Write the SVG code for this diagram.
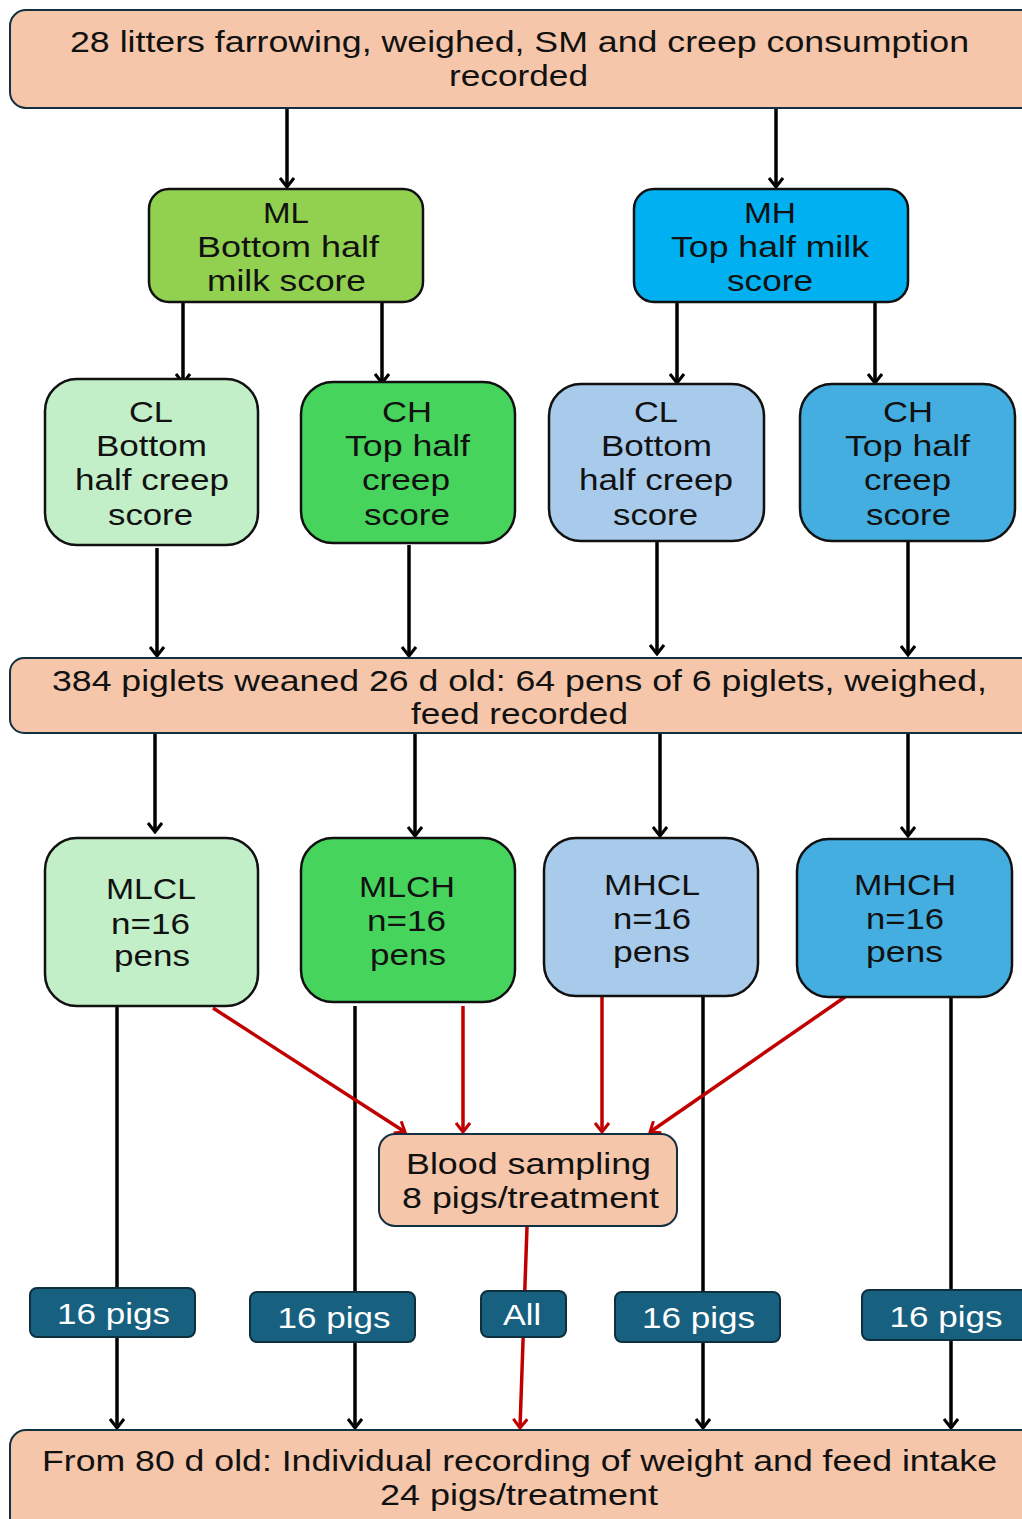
<svg xmlns="http://www.w3.org/2000/svg" width="1022" height="1519" viewBox="0 0 1022 1519">
<style>
text{font-family:"Liberation Sans",Arial,sans-serif;font-size:30px;fill:#111;text-anchor:middle}
.peach{fill:#F5C6AA;stroke:#12303F;stroke-width:2}
.box{stroke:#111;stroke-width:2.5}
.lab{fill:#17607F;stroke:#0E2F3E;stroke-width:2}
.lab text{fill:#fff;stroke:none}
.blk{stroke:#000;stroke-width:3.5;fill:none}
.red{stroke:#C00000;stroke-width:3.5;fill:none}
</style>
<defs>
<marker id="ab" markerWidth="12" markerHeight="16" refX="10" refY="8" orient="auto" markerUnits="userSpaceOnUse" viewBox="0 0 12 16">
<path d="M1,1 L10,8 L1,15" fill="none" stroke="#000" stroke-width="3"/>
</marker>
<marker id="ar" markerWidth="12" markerHeight="16" refX="10" refY="8" orient="auto" markerUnits="userSpaceOnUse" viewBox="0 0 12 16">
<path d="M1,1 L10,8 L1,15" fill="none" stroke="#C00000" stroke-width="3"/>
</marker>
</defs>
<rect width="1022" height="1519" fill="#fff"/>

<g id="connectors">
<line class="blk" x1="287" y1="108" x2="287" y2="187" marker-end="url(#ab)"/>
<line class="blk" x1="776" y1="108" x2="776" y2="187" marker-end="url(#ab)"/>
<line class="blk" x1="183" y1="302" x2="183" y2="383" marker-end="url(#ab)"/>
<line class="blk" x1="382" y1="302" x2="382" y2="383" marker-end="url(#ab)"/>
<line class="blk" x1="677" y1="302" x2="677" y2="383" marker-end="url(#ab)"/>
<line class="blk" x1="875" y1="302" x2="875" y2="383" marker-end="url(#ab)"/>
<line class="blk" x1="157" y1="548" x2="157" y2="656" marker-end="url(#ab)"/>
<line class="blk" x1="409" y1="545" x2="409" y2="656" marker-end="url(#ab)"/>
<line class="blk" x1="657" y1="541" x2="657" y2="654" marker-end="url(#ab)"/>
<line class="blk" x1="908" y1="542" x2="908" y2="655" marker-end="url(#ab)"/>
<line class="blk" x1="155" y1="734" x2="155" y2="832" marker-end="url(#ab)"/>
<line class="blk" x1="415" y1="734" x2="415" y2="836" marker-end="url(#ab)"/>
<line class="blk" x1="660" y1="734" x2="660" y2="836" marker-end="url(#ab)"/>
<line class="blk" x1="908" y1="734" x2="908" y2="836" marker-end="url(#ab)"/>
<line class="blk" x1="117" y1="1003" x2="117" y2="1428" marker-end="url(#ab)"/>
<line class="blk" x1="355" y1="1006" x2="355" y2="1428" marker-end="url(#ab)"/>
<line class="blk" x1="703" y1="996" x2="703" y2="1428" marker-end="url(#ab)"/>
<line class="blk" x1="951" y1="997" x2="951" y2="1428" marker-end="url(#ab)"/>
<line class="red" x1="213" y1="1008" x2="405" y2="1132" marker-end="url(#ar)"/>
<line class="red" x1="463" y1="1006" x2="463" y2="1132" marker-end="url(#ar)"/>
<line class="red" x1="602" y1="996" x2="602" y2="1132" marker-end="url(#ar)"/>
<line class="red" x1="845" y1="997" x2="650" y2="1132" marker-end="url(#ar)"/>
<line class="red" x1="527" y1="1227" x2="520" y2="1428" marker-end="url(#ar)"/>
</g>

<g id="top">
<rect class="peach" x="10" y="10" width="1030" height="98" rx="16"/>
<text x="519.5" y="52" textLength="899" lengthAdjust="spacingAndGlyphs">28 litters farrowing, weighed, SM and creep consumption</text>
<text x="518.5" y="86" textLength="139" lengthAdjust="spacingAndGlyphs">recorded</text>
</g>

<g id="ML">
<rect class="box" x="149" y="189" width="274" height="113" rx="20" fill="#92D050"/>
<text x="286" y="223" textLength="46" lengthAdjust="spacingAndGlyphs">ML</text>
<text x="288" y="257" textLength="182" lengthAdjust="spacingAndGlyphs">Bottom half</text>
<text x="286.5" y="291" textLength="159" lengthAdjust="spacingAndGlyphs">milk score</text>
</g>
<g id="MH">
<rect class="box" x="634" y="189" width="274" height="113" rx="20" fill="#00B0F0"/>
<text x="770" y="223" textLength="52" lengthAdjust="spacingAndGlyphs">MH</text>
<text x="770" y="257" textLength="198" lengthAdjust="spacingAndGlyphs">Top half milk</text>
<text x="770" y="291" textLength="86" lengthAdjust="spacingAndGlyphs">score</text>
</g>

<g id="CL1">
<rect class="box" x="45" y="379" width="213" height="166" rx="32" fill="#C3EFC8"/>
<text x="151" y="422" textLength="44" lengthAdjust="spacingAndGlyphs">CL</text>
<text x="151.5" y="456" textLength="111" lengthAdjust="spacingAndGlyphs">Bottom</text>
<text x="152" y="490" textLength="154" lengthAdjust="spacingAndGlyphs">half creep</text>
<text x="150.5" y="525" textLength="85" lengthAdjust="spacingAndGlyphs">score</text>
</g>
<g id="CH1">
<rect class="box" x="301" y="382" width="214" height="161" rx="32" fill="#47D45C"/>
<text x="407" y="422" textLength="50" lengthAdjust="spacingAndGlyphs">CH</text>
<text x="407.5" y="456" textLength="125" lengthAdjust="spacingAndGlyphs">Top half</text>
<text x="406" y="490" textLength="88" lengthAdjust="spacingAndGlyphs">creep</text>
<text x="407" y="525" textLength="86" lengthAdjust="spacingAndGlyphs">score</text>
</g>
<g id="CL2">
<rect class="box" x="549" y="384" width="215" height="157" rx="32" fill="#A9CBEB"/>
<text x="656" y="422" textLength="44" lengthAdjust="spacingAndGlyphs">CL</text>
<text x="656.5" y="456" textLength="111" lengthAdjust="spacingAndGlyphs">Bottom</text>
<text x="656" y="490" textLength="154" lengthAdjust="spacingAndGlyphs">half creep</text>
<text x="655.5" y="525" textLength="85" lengthAdjust="spacingAndGlyphs">score</text>
</g>
<g id="CH2">
<rect class="box" x="800" y="384" width="215" height="157" rx="32" fill="#44AEE0"/>
<text x="908" y="422" textLength="50" lengthAdjust="spacingAndGlyphs">CH</text>
<text x="907.5" y="456" textLength="125" lengthAdjust="spacingAndGlyphs">Top half</text>
<text x="907.5" y="490" textLength="87" lengthAdjust="spacingAndGlyphs">creep</text>
<text x="908.5" y="525" textLength="85" lengthAdjust="spacingAndGlyphs">score</text>
</g>

<g id="weaned">
<rect class="peach" x="10" y="658" width="1030" height="75" rx="14"/>
<text x="519.5" y="691" textLength="935" lengthAdjust="spacingAndGlyphs">384 piglets weaned 26 d old: 64 pens of 6 piglets, weighed,</text>
<text x="519.5" y="724" textLength="217" lengthAdjust="spacingAndGlyphs">feed recorded</text>
</g>

<g id="MLCL">
<rect class="box" x="45" y="838" width="213" height="168" rx="32" fill="#C3EFC8"/>
<text x="151" y="899" textLength="90" lengthAdjust="spacingAndGlyphs">MLCL</text>
<text x="150.5" y="934" textLength="79" lengthAdjust="spacingAndGlyphs">n=16</text>
<text x="152" y="966" textLength="76" lengthAdjust="spacingAndGlyphs">pens</text>
</g>
<g id="MLCH">
<rect class="box" x="301" y="838" width="214" height="164" rx="32" fill="#47D45C"/>
<text x="407" y="897" textLength="96" lengthAdjust="spacingAndGlyphs">MLCH</text>
<text x="406.5" y="931" textLength="79" lengthAdjust="spacingAndGlyphs">n=16</text>
<text x="408" y="965" textLength="76" lengthAdjust="spacingAndGlyphs">pens</text>
</g>
<g id="MHCL">
<rect class="box" x="544" y="838" width="214" height="158" rx="32" fill="#A9CBEB"/>
<text x="652" y="895" textLength="96" lengthAdjust="spacingAndGlyphs">MHCL</text>
<text x="652" y="929" textLength="78" lengthAdjust="spacingAndGlyphs">n=16</text>
<text x="651.5" y="962" textLength="77" lengthAdjust="spacingAndGlyphs">pens</text>
</g>
<g id="MHCH">
<rect class="box" x="797" y="839" width="215" height="158" rx="32" fill="#44AEE0"/>
<text x="905" y="895" textLength="102" lengthAdjust="spacingAndGlyphs">MHCH</text>
<text x="905" y="929" textLength="78" lengthAdjust="spacingAndGlyphs">n=16</text>
<text x="904.5" y="962" textLength="77" lengthAdjust="spacingAndGlyphs">pens</text>
</g>

<g id="blood">
<rect class="peach" x="379" y="1134" width="298" height="92" rx="16"/>
<text x="528.5" y="1174" textLength="245" lengthAdjust="spacingAndGlyphs">Blood sampling</text>
<text x="530.5" y="1208" textLength="257" lengthAdjust="spacingAndGlyphs">8 pigs/treatment</text>
</g>

<g id="lab1" class="lab">
<rect x="30" y="1288" width="165" height="49" rx="7"/>
<text x="113.5" y="1324" textLength="113" lengthAdjust="spacingAndGlyphs">16 pigs</text>
</g>
<g id="lab2" class="lab">
<rect x="250" y="1292" width="165" height="50" rx="7"/>
<text x="334" y="1328" textLength="113" lengthAdjust="spacingAndGlyphs">16 pigs</text>
</g>
<g id="lab3" class="lab">
<rect x="481" y="1291" width="85" height="46" rx="7"/>
<text x="522" y="1325" textLength="38" lengthAdjust="spacingAndGlyphs">All</text>
</g>
<g id="lab4" class="lab">
<rect x="615" y="1292" width="165" height="50" rx="7"/>
<text x="698.5" y="1328" textLength="113" lengthAdjust="spacingAndGlyphs">16 pigs</text>
</g>
<g id="lab5" class="lab">
<rect x="862" y="1290" width="175" height="50" rx="7"/>
<text x="946" y="1327" textLength="113" lengthAdjust="spacingAndGlyphs">16 pigs</text>
</g>

<g id="bottom">
<rect class="peach" x="10" y="1430" width="1030" height="110" rx="16"/>
<text x="519.5" y="1471" textLength="955" lengthAdjust="spacingAndGlyphs">From 80 d old: Individual recording of weight and feed intake</text>
<text x="519" y="1505" textLength="278" lengthAdjust="spacingAndGlyphs">24 pigs/treatment</text>
</g>
</svg>
